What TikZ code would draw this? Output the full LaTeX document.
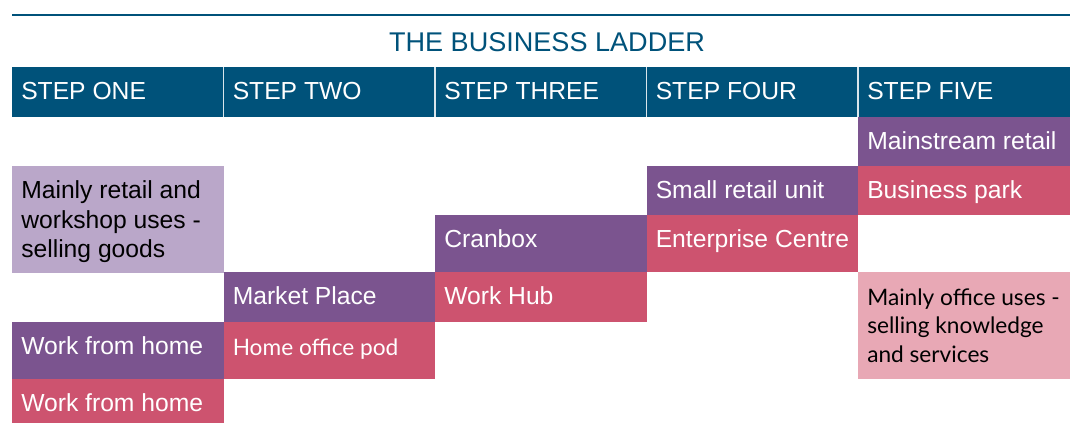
\documentclass[tikz,border=0pt]{standalone}
\usepackage{fontspec}
\setmainfont{Liberation Sans}
\newfontfamily\gillfont{Lato}
\definecolor{ladderblue}{RGB}{0,82,122}
\definecolor{ladderpurple}{RGB}{123,84,143}
\definecolor{ladderpink}{RGB}{205,83,111}
\definecolor{lightpurple}{RGB}{186,167,201}
\definecolor{lightpink}{RGB}{232,168,181}
\tikzset{
	celltext/.style={font=\fontsize{18.5}{22.1}\selectfont, anchor=north west, inner sep=0pt, align=left, text=white},
	gilltext/.style={celltext, font=\gillfont\fontsize{17}{21.4}\selectfont},
}

\begin{document}
\begin{tikzpicture}[x=0.75pt,y=-0.75pt]
				\useasboundingbox (0,0) rectangle (1075,423);
				\draw[ladderblue, line width=1.5pt] (12,15) -- (1070,15);
				\node[ladderblue, font=\fontsize{20.3}{24}\selectfont] (title) at (547,42) {THE BUSINESS LADDER};
				
				% header bar
				\fill[ladderblue] (12,67) rectangle (1070,117);
				\foreach \x in {223.5,435,646.5,858}
					\draw[white!85!ladderblue, line width=1pt] (\x,67) -- (\x,117);
				\node[celltext] (one) at (21,82) {STEP ONE};
				\node[celltext] (two) at (232.5,82) {STEP TWO};
				\node[celltext] (three) at (444,82) {STEP THREE};
				\node[celltext] (four) at (655.5,82) {STEP FOUR};
				\node[celltext] (five) at (867,82) {STEP FIVE};
				
				% step one
				\fill[lightpurple] (12,166) rectangle (223.5,273);
				\node[celltext, text=black] (goods) at (21,180.5) {Mainly retail and\\workshop uses -\\selling goods};
				\fill[ladderpurple] (12,322) rectangle (223.5,379);
				\node[celltext] (homeA) at (21,336.5) {Work from home};
				\fill[ladderpink] (12,379) rectangle (223.5,423);
				\node[celltext] (homeB) at (21,393.5) {Work from home};
				
				% step two
				\fill[ladderpurple] (223.5,272) rectangle (435,322);
				\node[celltext] (market) at (232.5,286.5) {Market Place};
				\fill[ladderpink] (223.5,322) rectangle (435,379);
				\node[gilltext] (pod) at (232.5,338.5) {Home office pod};
				
				% step three
				\fill[ladderpurple] (435,215) rectangle (646.5,272);
				\node[celltext] (cranbox) at (444,229.5) {Cranbox};
				\fill[ladderpink] (435,272) rectangle (646.5,322);
				\node[celltext] (hub) at (444,286.5) {Work Hub};
				
				% step four
				\fill[ladderpurple] (646.5,166) rectangle (858,215);
				\node[celltext] (unit) at (655.5,180.5) {Small retail unit};
				\fill[ladderpink] (646.5,215) rectangle (858,272);
				\node[celltext] (centre) at (655.5,229.5) {Enterprise Centre};
				
				% step five
				\fill[ladderpurple] (858,117) rectangle (1070,166);
				\node[celltext] (retail) at (867,131.5) {Mainstream retail};
				\fill[ladderpink] (858,166) rectangle (1070,215);
				\node[celltext] (park) at (867,180.5) {Business park};
				\fill[lightpink] (858,272) rectangle (1070,379);
				\node[gilltext, text=black] (knowledge) at (867,288.5) {Mainly office uses -\\selling knowledge\\and services};
			\end{tikzpicture}
\end{document}
